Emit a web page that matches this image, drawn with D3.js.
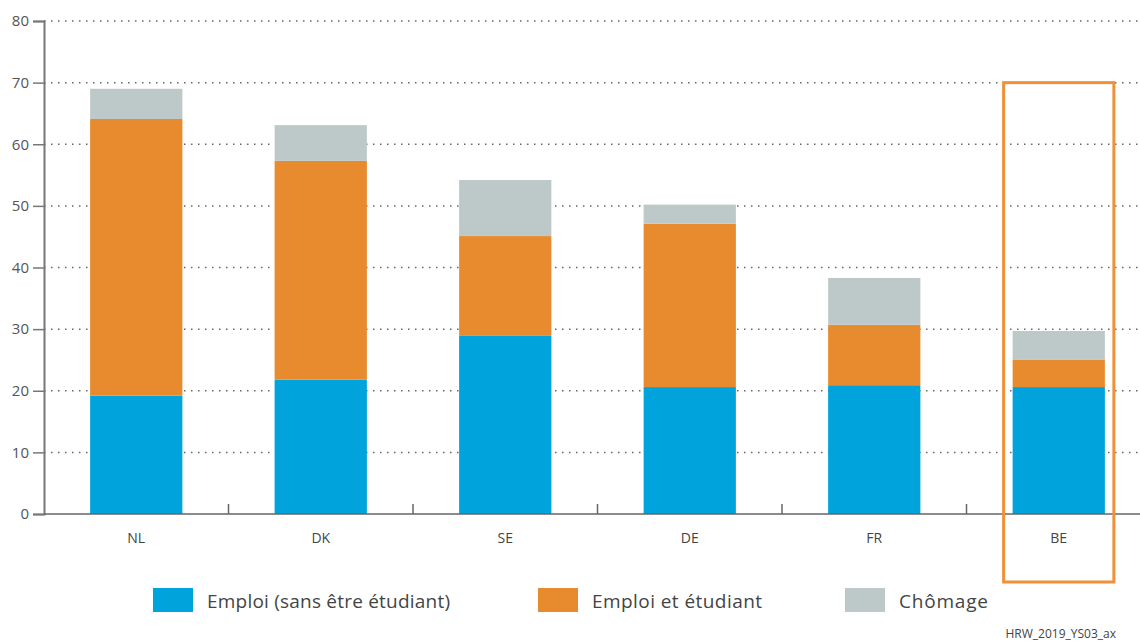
<!DOCTYPE html>
<html lang="fr">
<head>
    <meta charset="UTF-8">
    <title>Emploi et chômage des jeunes</title>
    <script src="https://d3js.org/d3.v7.min.js"></script>
    <style>
        body { margin: 0; background: #fff; }
        text { font-family: "Open Sans", "Noto Sans", sans-serif; fill: #444; }
    </style>
</head>
<body>
    <svg id="chart" width="1140" height="641"></svg>
    <script>
        const countries = ["NL", "DK", "SE", "DE", "FR", "BE"];
        const seriesNames = ["Emploi (sans être étudiant)", "Emploi et étudiant", "Chômage"];
        const emploi = [19.2, 21.8, 28.9, 20.6, 20.9, 20.6];
        const emploiEtudiant = [44.9, 35.5, 16.2, 26.5, 9.8, 4.4];
        const chomage = [4.9, 5.8, 9.1, 3.1, 7.6, 4.7];
        const yTicks = [0, 10, 20, 30, 40, 50, 60, 70, 80];
        const colors = ["#00a3dc", "#e88b2e", "#bdc9c8"];
        const highlighted = "BE";

        const svg = d3.select("#chart");
        const mLeft = 44, mRight = 1140, mTop = 21, mBottom = 514;

        const x = d3.scaleBand().domain(countries).range([mLeft, mLeft + 184.5 * 6]).paddingInner(0.5).paddingOuter(0.25);
        const y = d3.scaleLinear().domain([0, 80]).range([mBottom, mTop]);

        const rows = countries.map((c, i) => ({ country: c, s0: emploi[i], s1: emploiEtudiant[i], s2: chomage[i] }));
        const stacked = d3.stack().keys(["s0", "s1", "s2"])(rows);

        // grid lines
        svg.append("g").selectAll("line")
            .data(yTicks.filter(d => d > 0))
            .enter().append("line")
            .attr("x1", mLeft).attr("x2", mRight)
            .attr("y1", d => y(d)).attr("y2", d => y(d))
            .attr("stroke", "#666").attr("stroke-width", 1.5)
            .attr("stroke-dasharray", "1.5,5.5");

        // bars
        svg.append("g").selectAll("g")
            .data(stacked)
            .enter().append("g")
            .attr("fill", (d, i) => colors[i])
            .selectAll("rect")
            .data(d => d)
            .enter().append("rect")
            .attr("x", d => x(d.data.country))
            .attr("width", x.bandwidth())
            .attr("y", d => y(d[1]))
            .attr("height", d => y(d[0]) - y(d[1]));

        // y axis
        const yAxis = svg.append("g")
            .attr("transform", `translate(${mLeft},0)`)
            .call(d3.axisLeft(y).tickValues(yTicks).tickSize(11).tickPadding(4));
        yAxis.select(".domain").attr("stroke", "#777").attr("stroke-width", 2);
        yAxis.selectAll(".tick line").attr("stroke", "#777").attr("stroke-width", 1.5);
        yAxis.selectAll(".tick text").attr("font-size", 15).style("fill", "#555");

        // x axis baseline
        svg.append("line")
            .attr("x1", mLeft).attr("x2", mRight)
            .attr("y1", mBottom).attr("y2", mBottom)
            .attr("stroke", "#666").attr("stroke-width", 1.5);

        // separator ticks between categories
        const step = x.step();
        svg.append("g").selectAll("line")
            .data(countries.slice(1))
            .enter().append("line")
            .attr("x1", d => x(d) - step * 0.25)
            .attr("x2", d => x(d) - step * 0.25)
            .attr("y1", mBottom - 10).attr("y2", mBottom)
            .attr("stroke", "#666").attr("stroke-width", 1.5);

        // category labels
        svg.append("g").selectAll("text")
            .data(countries)
            .enter().append("text")
            .attr("x", d => x(d) + x.bandwidth() / 2)
            .attr("y", 543)
            .attr("text-anchor", "middle")
            .attr("font-size", 14)
            .text(d => d);

        // highlight box
        svg.append("rect")
            .attr("x", x(highlighted) - 9)
            .attr("y", y(70))
            .attr("width", x.bandwidth() + 18)
            .attr("height", 582 - y(70))
            .attr("fill", "none")
            .attr("stroke", "#f0913a")
            .attr("stroke-width", 3);

        // legend
        const legendX = [153, 538, 845];
        const legend = svg.append("g").selectAll("g")
            .data(seriesNames)
            .enter().append("g")
            .attr("transform", (d, i) => `translate(${legendX[i]},588)`);
        legend.append("rect")
            .attr("width", 40).attr("height", 24)
            .attr("fill", (d, i) => colors[i]);
        legend.append("text")
            .attr("x", 54).attr("y", 20)
            .attr("font-size", 19)
            .attr("textLength", (d, i) => [243, 170, 89][i])
            .text(d => d);

        svg.append("text")
            .attr("x", 1116).attr("y", 638)
            .attr("text-anchor", "end")
            .attr("font-size", 12)
            .text("HRW_2019_YS03_ax");
    </script>
</body>
</html>
